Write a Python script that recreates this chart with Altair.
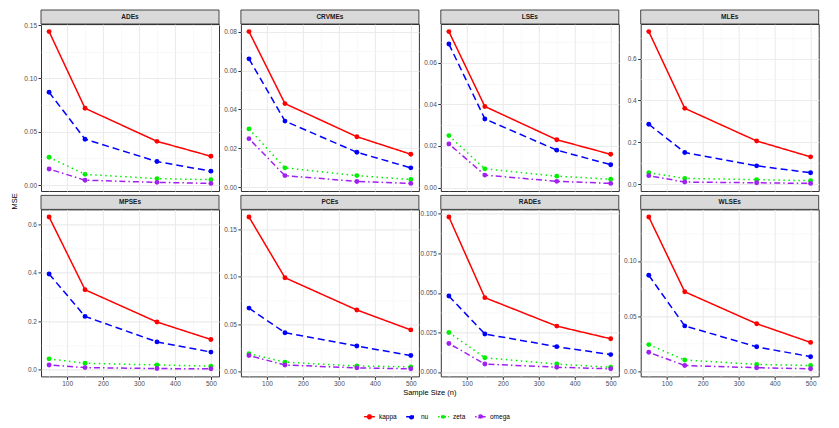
import altair as alt
import pandas as pd

panels = ["ADEs", "CRVMEs", "LSEs", "MLEs", "MPSEs", "PCEs", "RADEs", "WLSEs"]
sample_sizes = [50, 150, 350, 500]
params = ["kappa", "nu", "zeta", "omega"]

kappa_mse = {
    "ADEs":   [0.144, 0.072, 0.041, 0.027],
    "CRVMEs": [0.080, 0.043, 0.026, 0.017],
    "LSEs":   [0.075, 0.039, 0.023, 0.016],
    "MLEs":   [0.729, 0.362, 0.206, 0.130],
    "MPSEs":  [0.630, 0.330, 0.197, 0.125],
    "PCEs":   [0.163, 0.099, 0.065, 0.044],
    "RADEs":  [0.098, 0.047, 0.029, 0.021],
    "WLSEs":  [0.140, 0.072, 0.043, 0.026],
}
nu_mse = {
    "ADEs":   [0.087, 0.043, 0.022, 0.013],
    "CRVMEs": [0.066, 0.034, 0.018, 0.010],
    "LSEs":   [0.069, 0.033, 0.018, 0.011],
    "MLEs":   [0.286, 0.151, 0.087, 0.054],
    "MPSEs":  [0.395, 0.220, 0.115, 0.073],
    "PCEs":   [0.067, 0.041, 0.027, 0.017],
    "RADEs":  [0.048, 0.024, 0.016, 0.011],
    "WLSEs":  [0.087, 0.041, 0.022, 0.013],
}
zeta_mse = {
    "ADEs":   [0.026, 0.010, 0.006, 0.005],
    "CRVMEs": [0.030, 0.010, 0.006, 0.004],
    "LSEs":   [0.025, 0.009, 0.0055, 0.004],
    "MLEs":   [0.054, 0.027, 0.021, 0.016],
    "MPSEs":  [0.045, 0.027, 0.020, 0.015],
    "PCEs":   [0.019, 0.010, 0.006, 0.005],
    "RADEs":  [0.025, 0.009, 0.005, 0.003],
    "WLSEs":  [0.024, 0.010, 0.006, 0.005],
}
omega_mse = {
    "ADEs":   [0.015, 0.0045, 0.0025, 0.0015],
    "CRVMEs": [0.025, 0.006, 0.003, 0.002],
    "LSEs":   [0.021, 0.006, 0.003, 0.002],
    "MLEs":   [0.040, 0.0095, 0.006, 0.003],
    "MPSEs":  [0.020, 0.009, 0.005, 0.004],
    "PCEs":   [0.017, 0.007, 0.004, 0.003],
    "RADEs":  [0.018, 0.005, 0.003, 0.002],
    "WLSEs":  [0.017, 0.005, 0.003, 0.002],
}

y_major_step = {"ADEs": 0.05, "CRVMEs": 0.02, "LSEs": 0.02, "MLEs": 0.2,
                "MPSEs": 0.2, "PCEs": 0.05, "RADEs": 0.025, "WLSEs": 0.05}
y_label_format = {"ADEs": ".2f", "CRVMEs": ".2f", "LSEs": ".2f", "MLEs": ".1f",
                  "MPSEs": ".1f", "PCEs": ".2f", "RADEs": ".3f", "WLSEs": ".2f"}
x_major = [100, 200, 300, 400, 500]
x_minor = [50, 150, 250, 350, 450]

series = {"kappa": kappa_mse, "nu": nu_mse, "zeta": zeta_mse, "omega": omega_mse}
rows = []
for p in panels:
    for prm in params:
        for n, v in zip(sample_sizes, series[prm][p]):
            rows.append({"panel": p, "n": n, "param": prm, "ltype": prm, "mse": v})
df = pd.DataFrame(rows)

colors = ["#FF0000", "#0000FF", "#00EE00", "#A020F0"]
dashes = [[1, 0], [7, 4], [1.5, 3.5], [1.5, 3, 6, 3]]

W, H = 178, 167
COL_GAP, ROW_GAP = 21.9, 18.4
FONT = "Liberation Sans"
GRID_MAJOR = "#EBEBEB"
GRID_MINOR = "#F4F4F4"


def is_one_of(values):
    return "(" + " || ".join("abs(datum.value - (%r)) < 1e-9" % v for v in values) + ")"


x_vals = sorted(x_major + x_minor)
x_test = is_one_of(x_major)


def panel(name, bottom_row, extra=None):
    d = df[df.panel == name]
    lo, hi = d.mse.min(), d.mse.max()
    pad = (hi - lo) * 0.05
    dom = [lo - pad, hi + pad]
    half = y_major_step[name] / 2
    vals, majors = [], []
    i = int(dom[0] // half)
    while i * half <= dom[1] + 1e-12:
        v = round(i * half, 6)
        if dom[0] <= v <= dom[1]:
            vals.append(v)
            if i % 2 == 0:
                majors.append(v)
        i += 1
    y_test = is_one_of(majors)
    fmt = y_label_format[name]

    x_axis = alt.Axis(
        values=x_vals, title=None, domain=False,
        labels=bottom_row, ticks=bottom_row,
        labelExpr="%s ? format(datum.value, 'd') : ''" % x_test,
        gridColor={"condition": {"test": x_test, "value": GRID_MAJOR}, "value": GRID_MINOR},
        gridWidth={"condition": {"test": x_test, "value": 1.1}, "value": 0.6},
        tickColor={"condition": {"test": x_test, "value": "#333333"}, "value": "transparent"},
    )
    y_axis = alt.Axis(
        values=vals, title=None, domain=False,
        labelExpr="%s ? format(datum.value, '%s') : ''" % (y_test, fmt),
        gridColor={"condition": {"test": y_test, "value": GRID_MAJOR}, "value": GRID_MINOR},
        gridWidth={"condition": {"test": y_test, "value": 1.1}, "value": 0.6},
        tickColor={"condition": {"test": y_test, "value": "#333333"}, "value": "transparent"},
    )
    xs = alt.X("n:Q", scale=alt.Scale(domain=[27.5, 522.5], nice=False, zero=False), axis=x_axis)
    ys = alt.Y("mse:Q", scale=alt.Scale(domain=dom, nice=False, zero=False), axis=y_axis)
    col = alt.Color("param:N", scale=alt.Scale(domain=params, range=colors),
                    legend=alt.Legend(title=None))
    base = alt.Chart(d)
    lines = base.mark_line(strokeWidth=1.5).encode(
        x=xs, y=ys, color=col,
        strokeDash=alt.StrokeDash("ltype:N", scale=alt.Scale(domain=params, range=dashes), legend=None),
    )
    pts = base.mark_point(filled=True, size=24, opacity=1).encode(x=xs, y=ys, color=col)
    one = pd.DataFrame({"t": [name]})
    strip = alt.Chart(one).mark_rect(fill="#D9D9D9", stroke="#333333", strokeWidth=0.9).encode(
        x=alt.value(0), x2=alt.value(W), y=alt.value(-14), y2=alt.value(0))
    stxt = alt.Chart(one).mark_text(font=FONT, fontSize=6.5, fontWeight="bold", color="#1A1A1A").encode(
        text="t:N", x=alt.value(W / 2), y=alt.value(-7))
    layers = [lines, pts, strip, stxt]
    if extra:
        layers += extra
    return alt.layer(*layers).properties(width=W, height=H)


mse_title = alt.Chart(pd.DataFrame({"t": ["MSE"]})).mark_text(
    font=FONT, fontSize=7.5, angle=270, color="#000000").encode(
    text="t:N", x=alt.value(-26), y=alt.value(-8))
x_title = alt.Chart(pd.DataFrame({"t": ["Sample Size (n)"]})).mark_text(
    font=FONT, fontSize=7.5, color="#000000").encode(
    text="t:N", x=alt.value(W + COL_GAP / 2), y=alt.value(H + 16.5))

charts = [
    panel("ADEs", False), panel("CRVMEs", False), panel("LSEs", False), panel("MLEs", False),
    panel("MPSEs", True, [mse_title]), panel("PCEs", True, [x_title]),
    panel("RADEs", True), panel("WLSEs", True),
]

chart = alt.concat(*charts, columns=4, bounds="flush",
                   spacing={"row": ROW_GAP, "column": COL_GAP}).properties(
    padding={"left": 2, "top": 1, "right": 5, "bottom": 5}
).configure_view(
    stroke="#333333", strokeWidth=1
).configure_axis(
    labelFont=FONT, labelFontSize=6.5, labelColor="#4D4D4D", tickSize=3, labelPadding=1.5,
).configure_legend(
    orient="none", legendX=324, legendY=388, direction="horizontal",
    labelFont=FONT, labelFontSize=6.5, labelColor="#000000",
    symbolType="M-1.6,0L1.6,0M-0.55,0a0.55,0.55 0 1,0 1.1,0a0.55,0.55 0 1,0 -1.1,0",
    symbolSize=45, symbolStrokeWidth=1.5, columnPadding=6, labelOffset=5,
)

chart.save("out.html", embed_options={"renderer": "svg", "actions": False})
